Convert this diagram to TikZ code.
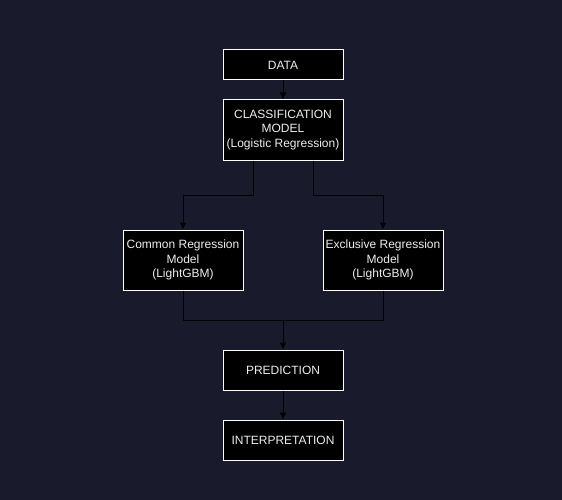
\documentclass[tikz,border=0pt]{standalone}
\usepackage{fontspec}
\setmainfont{Liberation Sans}
\usetikzlibrary{arrows.meta}
\definecolor{bgdark}{HTML}{191B2C}
\definecolor{boxtext}{HTML}{EEEEEE}
\tikzset{box/.style={draw=white, fill=black, text=boxtext, line width=1pt, align=center,
  minimum width=120pt, inner sep=0pt, font=\fontsize{12}{14.5}\selectfont}}
\tikzset{link/.style={draw=black, line width=1pt}}

\begin{document}
\begin{tikzpicture}[x=1pt,y=-1pt,>={Latex[length=7pt,width=7pt]}]
\fill[bgdark] (0,0) rectangle (562,500);
\useasboundingbox (0,0) rectangle (562,500);
\node[box, minimum height=30pt] (data) at (283,65) {DATA};
\node[box, minimum height=60pt] (classif) at (283,130) {CLASSIFICATION\\MODEL\\(Logistic Regression)};
\node[box, minimum height=60pt] (common) at (183,260) {Common Regression\\Model\\(LightGBM)};
\node[box, minimum height=60pt] (exclusive) at (383,260) {Exclusive Regression\\Model\\(LightGBM)};
\node[box, minimum height=40pt] (pred) at (283,370) {PREDICTION};
\node[box, minimum height=40pt] (interp) at (283,440) {INTERPRETATION};
\coordinate (split) at (283,195);
\coordinate (join) at (283,320);
\draw[link,->] (data) -- (classif);
\draw[link,->] ([xshift=-30pt]classif.south) |- ([xshift=-30pt]split) -| (common);
\draw[link,->] ([xshift=30pt]classif.south) |- ([xshift=30pt]split) -| (exclusive);
\draw[link] (common) |- (join);
\draw[link] (exclusive) |- (join);
\draw[link,->] (join) -- (pred);
\draw[link,->] (pred) -- (interp);
\end{tikzpicture}
\end{document}
